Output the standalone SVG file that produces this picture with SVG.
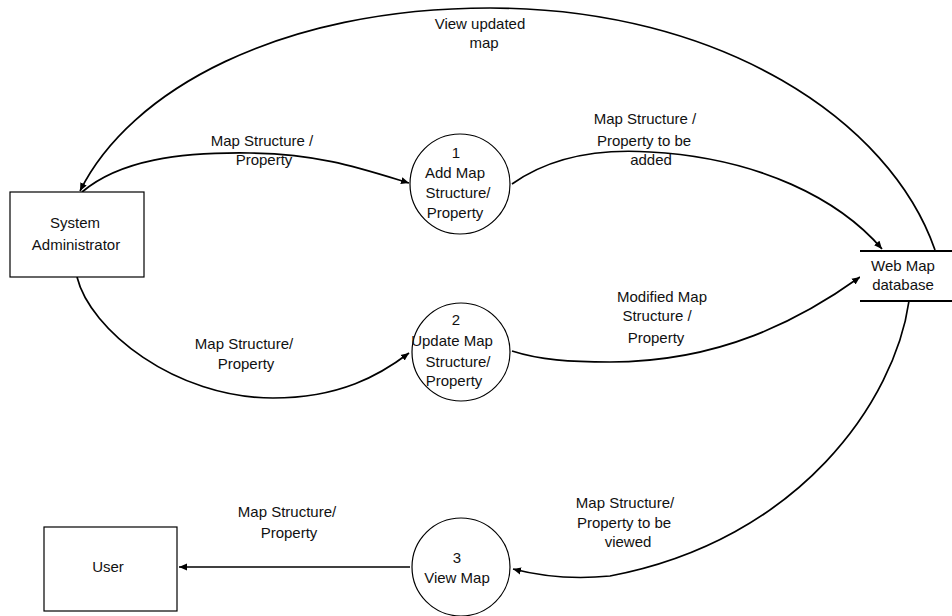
<svg xmlns="http://www.w3.org/2000/svg" width="952" height="616" viewBox="0 0 952 616">
<style>
text{font-family:"Liberation Sans",Arial,sans-serif;font-size:15px;fill:#111;text-anchor:middle}
.flow{fill:none;stroke:#000;stroke-width:1.7;marker-end:url(#arr)}
.shape{fill:#fff;stroke:#000;stroke-width:1.2}
.store{stroke:#000;stroke-width:2.2}
</style>
<defs>
<marker id="arr" markerUnits="userSpaceOnUse" markerWidth="9" markerHeight="8" refX="8" refY="4" orient="auto">
<path d="M0,0.5 L8,4 L0,7.5 z" fill="#000"/>
</marker>
</defs>
<rect width="952" height="616" fill="#fff"/>
<g id="connectors">
<path class="flow" d="M935,250 C890,120 720,8 490,8 C280,8 130,90 80,191"/>
<path class="flow" d="M82,192 C120,160 180,152 250,153 C320,154 360,168 409,183"/>
<path class="flow" d="M512,184 C560,150 620,150 650,152 C760,158 840,200 882,249"/>
<path class="flow" d="M77,277 C90,330 175,398 273,398 C340,398 380,375 409,353"/>
<path class="flow" d="M512,351 C540,360 570,362 610,362 C720,362 800,320 860,277"/>
<path class="flow" d="M909,301 C895,400 800,540 610,576 C570,580 540,576 513,569"/>
<path class="flow" d="M410,567 L179,567"/>
</g>
<g id="sysadmin">
<rect class="shape" x="10" y="192" width="134" height="85"/>
<text x="75" y="228">System</text>
<text x="76" y="250">Administrator</text>
</g>
<g id="user">
<rect class="shape" x="44" y="527" width="133" height="84"/>
<text x="108" y="572">User</text>
</g>
<g id="p1">
<circle class="shape" cx="460" cy="184" r="50"/>
<text x="456" y="158">1</text>
<text x="455" y="178">Add Map</text>
<text x="458" y="198">Structure/</text>
<text x="455" y="218">Property</text>
</g>
<g id="p2">
<circle class="shape" cx="461" cy="352" r="49"/>
<text x="456" y="325">2</text>
<text x="452" y="346">Update Map</text>
<text x="458" y="367">Structure/</text>
<text x="454" y="386">Property</text>
</g>
<g id="p3">
<circle class="shape" cx="461" cy="567" r="49"/>
<text x="457" y="563">3</text>
<text x="457" y="583">View Map</text>
</g>
<g id="webmapdb">
<rect x="860" y="251" width="92" height="50" fill="#fff"/>
<line class="store" x1="860" y1="251" x2="952" y2="251"/>
<line class="store" x1="860" y1="301" x2="952" y2="301"/>
<text x="903" y="271">Web Map</text>
<text x="903" y="290">database</text>
</g>
<g id="labels">
<text x="480" y="29">View updated</text>
<text x="484" y="48">map</text>
<text x="262" y="146">Map Structure /</text>
<text x="264" y="165">Property</text>
<text x="645" y="124">Map Structure /</text>
<text x="644" y="146">Property to be</text>
<text x="651" y="165">added</text>
<text x="244" y="349">Map Structure/</text>
<text x="246" y="369">Property</text>
<text x="662" y="302">Modified Map</text>
<text x="657" y="321">Structure /</text>
<text x="656" y="343">Property</text>
<text x="625" y="508">Map Structure/</text>
<text x="624" y="528">Property to be</text>
<text x="628" y="547">viewed</text>
<text x="287" y="517">Map Structure/</text>
<text x="289" y="538">Property</text>
</g>
</svg>
